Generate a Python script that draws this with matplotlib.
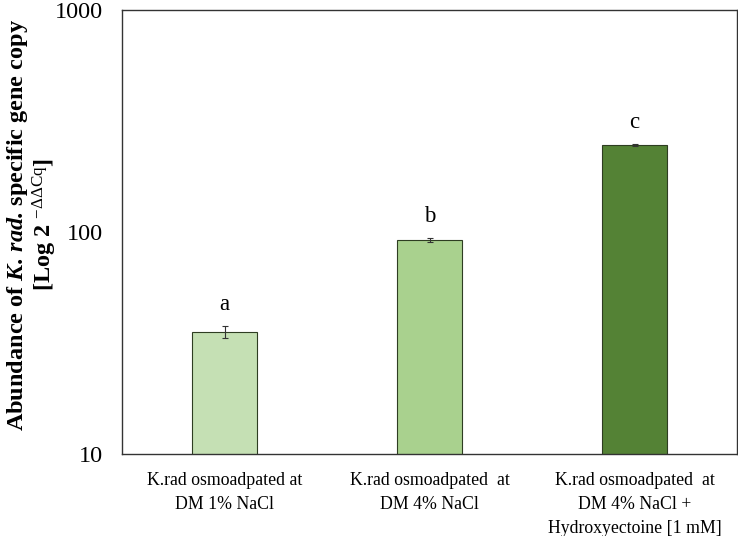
import matplotlib.pyplot as plt
import numpy as np

plt.rcParams['font.family'] = ['Liberation Serif', 'DejaVu Serif']
plt.rcParams['mathtext.fontset'] = 'custom'
plt.rcParams['mathtext.rm'] = 'Liberation Serif'
plt.rcParams['mathtext.it'] = 'Liberation Serif:italic'
plt.rcParams['mathtext.bf'] = 'Liberation Serif:bold'
plt.rcParams['mathtext.bfit'] = 'Liberation Serif:bold:italic'

# data
categories = ['K.rad osmoadpated at\nDM 1% NaCl',
              'K.rad osmoadpated  at\nDM 4% NaCl',
              'K.rad osmoadpated  at\nDM 4% NaCl +\nHydroxyectoine [1 mM]']
values = [35.5, 92, 246]
errors = [2.2, 1.8, 2.5]
letters = ['a', 'b', 'c']
colors = ['#c5e0b4', '#a9d18e', '#548235']

fig = plt.figure(figsize=(7.38, 5.36), dpi=100)
ax = fig.add_axes([122 / 738, 82 / 536, 615 / 738, 444 / 536])

x = np.arange(len(categories))
ax.bar(x, values, width=0.32, color=colors, edgecolor='#2e3d22', linewidth=0.8,
       yerr=errors, error_kw=dict(ecolor='#333333', elinewidth=0.8, capsize=2.5, capthick=0.8))

for xi, v, e, lab in zip(x, values, errors, letters):
    ax.text(xi, (v + e) * 1.12, lab, ha='center', va='bottom', fontsize=16.5)

ax.set_yscale('log')
ax.set_ylim(10, 1000)
ax.set_xlim(-0.5, 2.5)
ax.set_yticks([10, 100, 1000])
ax.set_yticklabels(['10', '100', '1000'])
ax.minorticks_off()
ax.tick_params(axis='y', length=0, labelsize=17.5, pad=14)
ax.set_xticks(x)
ax.set_xticklabels(categories, fontsize=12.8, linespacing=1.55)
ax.tick_params(axis='x', length=0, pad=13)

for s in ax.spines.values():
    s.set_linewidth(1.0)
    s.set_color('#333333')

fig.text(32 / 738, 1 - 225 / 536,
         r'Abundance of $\mathbfit{K.\,rad.}\,$specific gene copy' + '\n' +
         r'[Log 2 $^{\mathrm{-\Delta\Delta Cq}}$]',
         rotation=90, ha='center', va='center', fontsize=17.5,
         fontweight='bold', linespacing=1.0)

fig.savefig('out.png', dpi=100)
